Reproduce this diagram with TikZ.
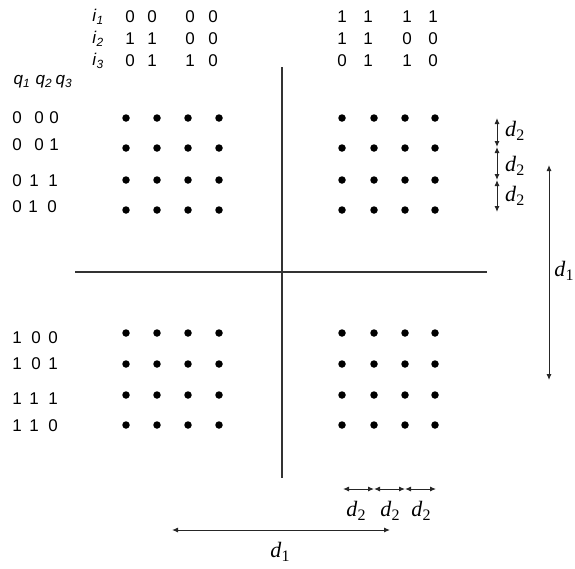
\documentclass[tikz,border=0pt]{standalone}
\usepackage{fontspec}
\setmainfont{Liberation Sans}
\newfontfamily\serifd{Liberation Serif}
\usetikzlibrary{arrows.meta}
\newcommand{\dlab}[1]{\textit{d}\raisebox{-4.5pt}{\fontsize{16}{16}\selectfont #1}}
\newcommand{\vlab}[2]{\textit{#1}\textsubscript{\textit{#2}}}
\begin{document}
\begin{tikzpicture}[x=1pt,y=-1pt,
 dot/.style={circle,fill=black,inner sep=0pt,minimum size=7.5pt},
 lbl/.style={font=\fontsize{17}{17}\selectfont,inner sep=0pt},
 dlbl/.style={font=\serifd\fontsize{22}{22}\selectfont,inner sep=0pt},
 axis/.style={draw=black!80,line width=1.2pt},
 dim/.style={{Latex[length=6pt,width=5pt]}-{Latex[length=6pt,width=5pt]},line width=1pt,draw=black!85}]
\useasboundingbox (0,0) rectangle (575,568);
% dots
\foreach \x [count=\c] in {126,157,188,219}{
  \foreach \y [count=\r] in {118,148,180,210}{\node[dot] (tl\r\c) at (\x,\y) {};}
  \foreach \y [count=\r] in {333,364,395,425}{\node[dot] (bl\r\c) at (\x,\y) {};}
}
\foreach \x [count=\c] in {342,374,405,435}{
  \foreach \y [count=\r] in {118,148,180,210}{\node[dot] (tr\r\c) at (\x,\y) {};}
  \foreach \y [count=\r] in {333,364,395,425}{\node[dot] (br\r\c) at (\x,\y) {};}
}
% axes
\coordinate (hL) at (75,272); \coordinate (hR) at (487,272);
\coordinate (vT) at (282,67); \coordinate (vB) at (282,478);
\draw[axis] (hL) -- (hR);
\draw[axis] (vT) -- (vB);
% i labels
\node[lbl] (i1) at (98,17) {\vlab{i}{1}};
\node[lbl] (i2) at (98,39) {\vlab{i}{2}};
\node[lbl] (i3) at (98,61) {\vlab{i}{3}};
\foreach \t/\x/\y [count=\k] in {0/130/17,0/152/17,0/190/17,0/213/17,
  1/130/39,1/152/39,0/190/39,0/213/39,
  0/130/61,1/152/61,1/190/61,0/213/61,
  1/342/17,1/368/17,1/407/17,1/433/17,
  1/342/39,1/368/39,0/407/39,0/433/39,
  0/342/61,1/368/61,1/407/61,0/433/61}
  {\node[lbl] (ib\k) at (\x,\y) {\t};}
% q labels
\node[lbl] (q1) at (22,82) {\vlab{q}{1}};
\node[lbl] (q2) at (44,82) {\vlab{q}{2}};
\node[lbl] (q3) at (64,82) {\vlab{q}{3}};
\foreach \t/\x/\y [count=\k] in {0/17/118,0/39/118,0/54/118,
  0/17/145,0/39/145,1/54/145,
  0/17/181,1/34/181,1/53/181,
  0/17/207,1/33/207,0/52/207,
  1/17/338,0/36/338,0/53/338,
  1/17/364,0/36/364,1/53/364,
  1/17/399,1/34/399,1/53/399,
  1/17/426,1/34/426,0/53/426}
  {\node[lbl] (qb\k) at (\x,\y) {\t};}
% right d2 arrows
\coordinate (r0) at (497,118); \coordinate (r1) at (497,147);
\coordinate (r2) at (497,180); \coordinate (r3) at (497,212);
\draw[dim] (r0) -- (r1);
\draw[dim] (r1) -- (r2);
\draw[dim] (r2) -- (r3);
\node[dlbl,anchor=west] (rd1) at (505,131) {\dlab{2}};
\node[dlbl,anchor=west] (rd2) at (505,166) {\dlab{2}};
\node[dlbl,anchor=west] (rd3) at (505,196) {\dlab{2}};
% right d1 arrow
\coordinate (rv0) at (549,165); \coordinate (rv1) at (549,380);
\draw[dim] (rv0) -- (rv1);
\node[dlbl] (rdd) at (564,271) {\dlab{1}};
% bottom d2 arrows
\coordinate (b0) at (343,489); \coordinate (b1) at (374,489);
\coordinate (b2) at (405,489); \coordinate (b3) at (436,489);
\draw[dim] (b0) -- (b1);
\draw[dim] (b1) -- (b2);
\draw[dim] (b2) -- (b3);
\node[dlbl] (bd1) at (356,511) {\dlab{2}};
\node[dlbl] (bd2) at (390,511) {\dlab{2}};
\node[dlbl] (bd3) at (421,511) {\dlab{2}};
% bottom d1 arrow
\coordinate (bh0) at (172,530); \coordinate (bh1) at (390,530);
\draw[dim] (bh0) -- (bh1);
\node[dlbl] (bdd) at (280,552) {\dlab{1}};
\end{tikzpicture}
\end{document}
